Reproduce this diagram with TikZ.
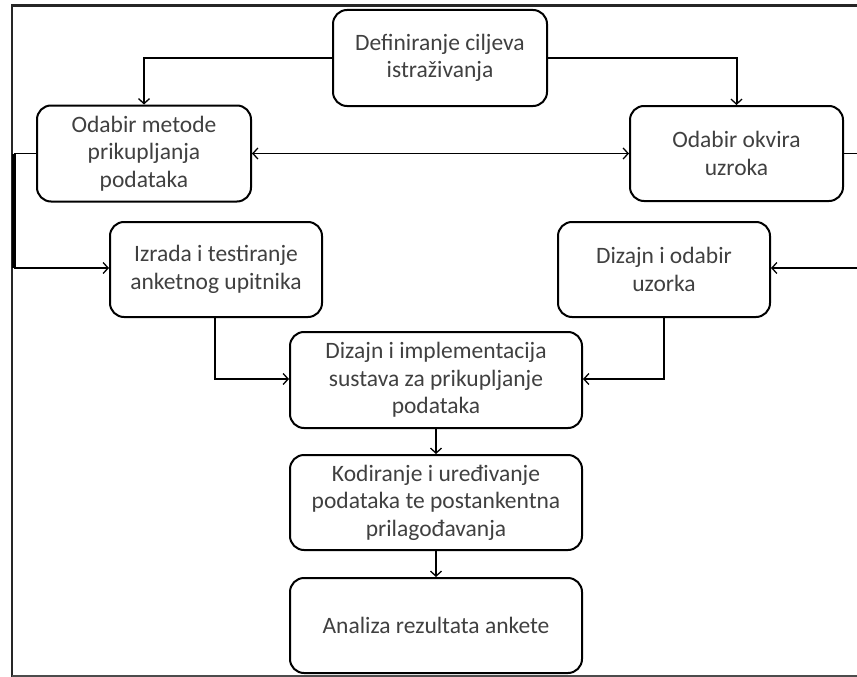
\documentclass[tikz,border=0pt]{standalone}
\usepackage{fontspec}
\setmainfont{Carlito}
\usetikzlibrary{arrows.meta}
\tikzset{
  box/.style={draw=black, line width=2pt, rounded corners=14pt, align=center,
    inner sep=2pt, text=black!75, font=\fontsize{23.5}{27.5}\selectfont},
  conn/.style={draw=black, line width=1.2pt},
  thick conn/.style={draw=black, line width=2.6pt},
  tip/.style={-{Straight Barb[length=5pt,width=11pt,line width=1.3pt]}},
  frame/.style={draw=black!85, line width=2pt}
}
\begin{document}
\begin{tikzpicture}[x=1pt,y=-1pt]
\useasboundingbox (0,0) rectangle (857,677);
% frame
\draw[frame] (12,677) -- (12,6);
\draw[frame, line width=3pt] (11,6) -- (857,6);
\draw[frame, draw=black!70] (12,676) -- (857,676);
% nodes
\node[box, minimum width=214pt, minimum height=96pt] (def) at (440,58) {Definiranje ciljeva\\istraživanja};
\node[box, minimum width=214pt, minimum height=96pt] (met) at (144,153.5) {Odabir metode\\prikupljanja\\podataka};
\node[box, minimum width=213pt, minimum height=95pt] (okv) at (736.5,153.5) {Odabir okvira\\uzroka};
\node[box, minimum width=212pt, minimum height=95pt] (izr) at (216,269.5) {Izrada i testiranje\\anketnog upitnika};
\node[box, minimum width=212pt, minimum height=95pt] (diz) at (664,269.5) {Dizajn i odabir\\uzorka};
\node[box, minimum width=292pt, minimum height=96pt] (impl) at (436,380) {Dizajn i implementacija\\sustava za prikupljanje\\podataka};
\node[box, minimum width=292pt, minimum height=95pt] (kod) at (436,502.5) {Kodiranje i uređivanje\\podataka te postankentna\\prilagođavanja};
\node[box, minimum width=292pt, minimum height=95pt] (ana) at (436,625.5) {Analiza rezultata ankete};
% coordinates
\coordinate (L1) at (14,153.5);
\coordinate (L2) at (14,268);
\coordinate (R1) at (857,153.5);
\coordinate (R2) at (857,268);
\coordinate (Ib) at (215,317);
\coordinate (Db) at (664,317);
% connectors
\draw[thick conn, tip] (def.west) -| (met.north);
\draw[conn, line width=2pt, tip] (def.east) -| (okv.north);
\draw[conn, {Straight Barb[length=5pt,width=11pt,line width=1.3pt]}-{Straight Barb[length=5pt,width=11pt,line width=1.3pt]}] (met.east) -- (okv.west);
\draw[conn] (met.west) -- (L1);
\draw[thick conn, line width=4pt] (L1) -- (L2);
\draw[conn, tip] (L2) -- (izr.west |- L2);
\draw[conn] (okv.east) -- (R1);
\draw[conn, tip] (R2) -- (diz.east |- R2);
\draw[conn, tip] (Ib) |- (impl.west |- 0,379);
\draw[conn, tip] (Db) |- (impl.east |- 0,379);
\draw[thick conn, tip] (impl.south) -- (kod.north);
\draw[thick conn, tip] (kod.south) -- (ana.north);
\end{tikzpicture}
\end{document}
